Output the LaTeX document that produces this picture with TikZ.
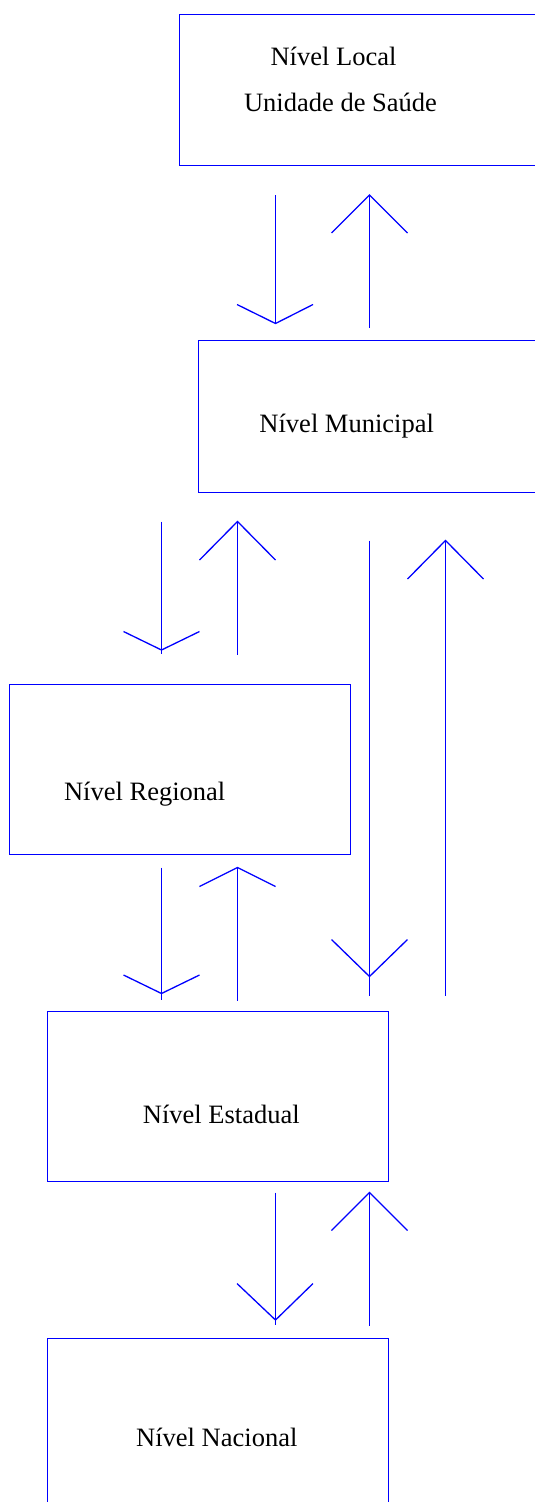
\documentclass[tikz,border=0pt]{standalone}
\usepackage{fontspec}
\setmainfont{Liberation Serif}
\definecolor{lineblue}{RGB}{0,0,255}
\begin{document}
\begin{tikzpicture}[x=1pt,y=-1pt,
  box/.style={draw=lineblue, color=lineblue, line width=1.3pt, inner sep=0pt, outer sep=0pt},
  lbl/.style={font=\fontsize{26.5}{30}\selectfont, anchor=base, inner sep=0pt, text=black},
  flow/.style={draw=lineblue, color=lineblue, line width=1.3pt}]
\useasboundingbox (0,0) rectangle (535,1502);
\clip (0,0) rectangle (535,1502);
% boxes
\node[box, minimum width=380pt, minimum height=151pt] (local) at (369.5,90) {};
\node[box, minimum width=361pt, minimum height=152pt] (municipal) at (379,416.5) {};
\node[box, minimum width=341pt, minimum height=170pt] (regional) at (180,769.5) {};
\node[box, minimum width=341pt, minimum height=170pt] (estadual) at (218,1096.5) {};
\node[box, minimum width=341pt, minimum height=170pt] (nacional) at (218,1423.5) {};
% labels
\node[lbl] (tlocal) at (333.5,65.5) {Nível Local};
\node[lbl] (tsaude) at (340.5,111.5) {Unidade de Saúde};
\node[lbl] (tmunicipal) at (346.7,432.7) {Nível Municipal};
\node[lbl] (tregional) at (144.7,800.7) {Nível Regional};
\node[lbl] (testadual) at (221.3,1123.3) {Nível Estadual};
\node[lbl] (tnacional) at (216.8,1446) {Nível Nacional};
% arrow 1: local -> municipal (down)
\coordinate (a1s) at (275.5,195); \coordinate (a1t) at (275.5,323.5);
\draw[flow] (a1s) -- (a1t);
\draw[flow] (237,304.5) -- (a1t) -- (313,304.5);
% arrow 2: municipal -> local (up)
\coordinate (a2s) at (369.5,327.5); \coordinate (a2t) at (369.5,195);
\draw[flow] (a2s) -- (a2t);
\draw[flow] (331.5,233) -- (a2t) -- (407.5,233);
% arrow 3: municipal -> regional (down)
\coordinate (a3s) at (161.5,521.5); \coordinate (a3e) at (161.5,654); \coordinate (a3t) at (161.5,650);
\draw[flow] (a3s) -- (a3e);
\draw[flow] (123.5,631.5) -- (a3t) -- (199.5,631.5);
% arrow 4: regional -> municipal (up)
\coordinate (a4s) at (237.5,654.5); \coordinate (a4t) at (237.5,521.5);
\draw[flow] (a4s) -- (a4t);
\draw[flow] (199.5,560) -- (a4t) -- (275.5,560);
% arrow 5: municipal -> estadual (long down)
\coordinate (a5s) at (369.5,540.5); \coordinate (a5e) at (369.5,995.5); \coordinate (a5t) at (369.5,976.5);
\draw[flow] (a5s) -- (a5e);
\draw[flow] (331.5,939.5) -- (a5t) -- (407.5,939.5);
% arrow 6: estadual -> municipal (long up)
\coordinate (a6s) at (445.5,995.5); \coordinate (a6t) at (445.5,540.5);
\draw[flow] (a6s) -- (a6t);
\draw[flow] (407.5,579) -- (a6t) -- (483.5,579);
% arrow 7: regional -> estadual (down)
\coordinate (a7s) at (161.5,867.5); \coordinate (a7e) at (161.5,1000); \coordinate (a7t) at (161.5,993.5);
\draw[flow] (a7s) -- (a7e);
\draw[flow] (123.5,975) -- (a7t) -- (199.5,975);
% arrow 8: estadual -> regional (up)
\coordinate (a8s) at (237.5,1000.5); \coordinate (a8t) at (237.5,867.5);
\draw[flow] (a8s) -- (a8t);
\draw[flow] (199.5,886.5) -- (a8t) -- (275.5,886.5);
% arrow 9: estadual -> nacional (down)
\coordinate (a9s) at (275.5,1192.5); \coordinate (a9e) at (275.5,1325); \coordinate (a9t) at (275.5,1320);
\draw[flow] (a9s) -- (a9e);
\draw[flow] (237,1283.5) -- (a9t) -- (313,1283.5);
% arrow 10: nacional -> estadual (up)
\coordinate (a10s) at (369.5,1325.5); \coordinate (a10t) at (369.5,1192.5);
\draw[flow] (a10s) -- (a10t);
\draw[flow] (331.5,1230.5) -- (a10t) -- (407.5,1230.5);
\end{tikzpicture}
\end{document}
